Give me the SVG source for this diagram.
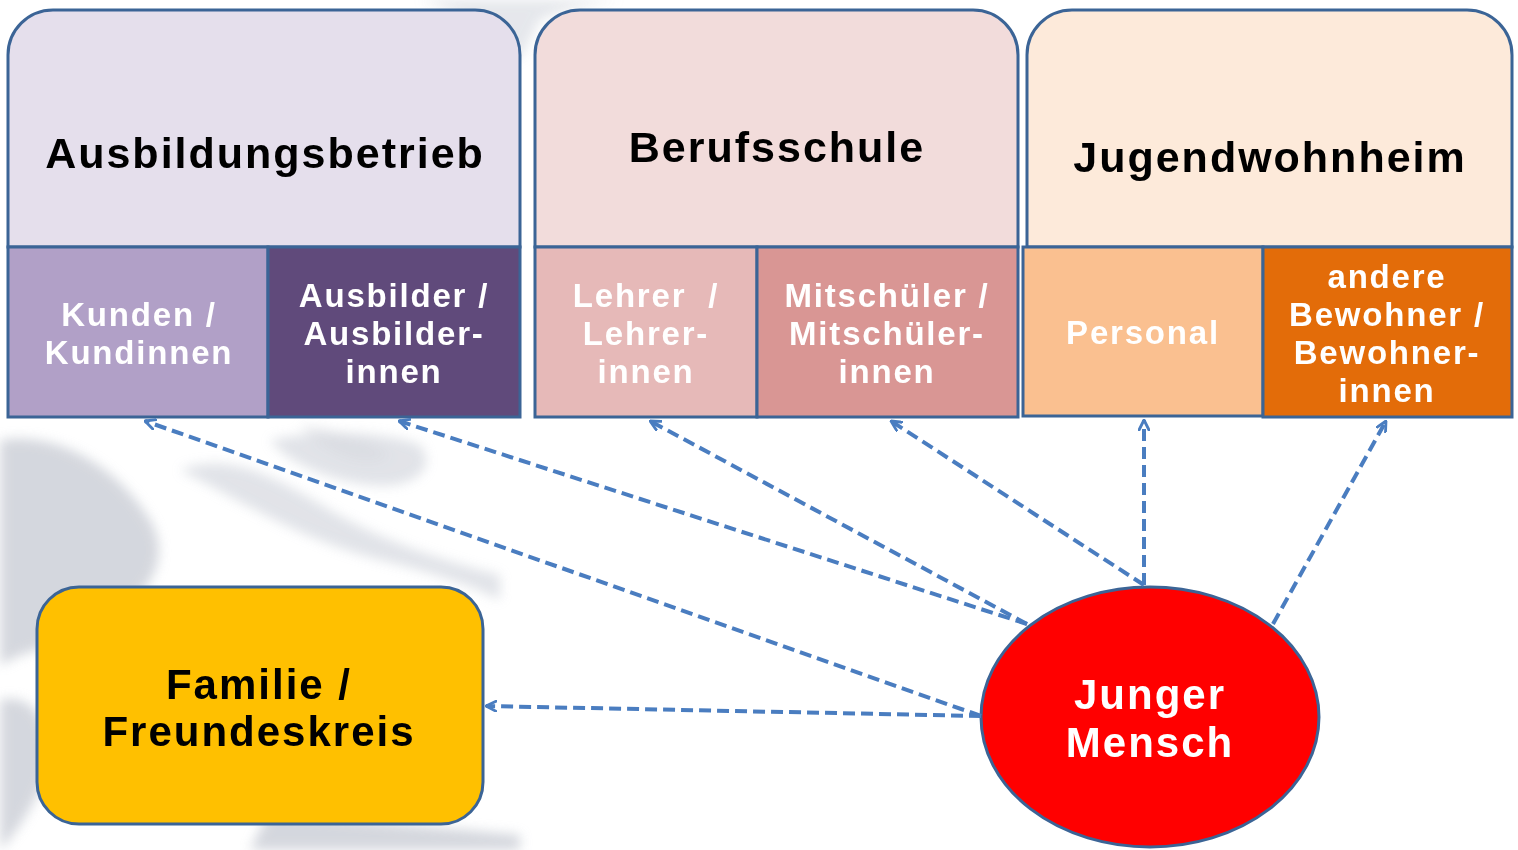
<svg xmlns="http://www.w3.org/2000/svg" width="1518" height="850" viewBox="0 0 1518 850">
  <style>
    .frame { stroke: #3B6496; stroke-width: 3; }
    .title { font-family: "Liberation Sans", Arial, sans-serif; font-weight: bold; font-size: 43px; fill: #000; text-anchor: middle; letter-spacing: 2px; }
    .sub { font-family: "Liberation Sans", Arial, sans-serif; font-weight: bold; font-size: 33px; fill: #fff; text-anchor: middle; letter-spacing: 1.8px; }
    .big { font-family: "Liberation Sans", Arial, sans-serif; font-weight: bold; font-size: 42px; text-anchor: middle; letter-spacing: 2px; }
    .conn { stroke: #4A7DC0; stroke-width: 4; stroke-dasharray: 12 6; fill: none; marker-end: url(#arrow); }
  </style>
  <defs>
    <marker id="arrow" viewBox="0 0 12 12" refX="11" refY="6" markerWidth="12" markerHeight="12" markerUnits="userSpaceOnUse" orient="auto">
      <polyline points="1,1 11,6 1,11" fill="none" stroke="#4A7DC0" stroke-width="2.8" stroke-linecap="round" stroke-linejoin="round"/>
    </marker>
    <filter id="blur" x="-20%" y="-20%" width="140%" height="140%">
      <feGaussianBlur stdDeviation="6"/>
    </filter>
  </defs>

  <rect width="1518" height="850" fill="#fff"/>

  <!-- faint background imagery -->
  <g id="background" filter="url(#blur)" fill="#CDD0D8" opacity="0.85">
    <path d="M0,440 C60,430 120,470 150,520 C180,570 130,620 60,640 C30,650 10,660 0,665 Z"/>
    <path d="M0,700 C40,690 60,740 40,790 C25,820 10,840 0,850 Z"/>
    <path d="M0,520 C40,560 70,600 40,650 L0,660 Z" opacity="0.6"/>
    <path d="M180,470 C240,500 300,540 380,560 C430,572 470,585 500,600 L500,575 C440,560 380,540 330,510 C280,480 230,450 180,470 Z" opacity="0.7"/>
    <path d="M270,440 C320,430 380,430 420,445 C440,470 410,490 370,485 C330,480 290,465 270,440 Z" opacity="0.7"/>
    <path d="M270,810 C330,820 420,825 520,835 L520,850 L250,850 Z"/>
    <path d="M420,0 C450,10 480,20 500,40 L520,60 L540,20 C560,10 590,5 620,0 Z" opacity="0.6"/>
    <path d="M300,425 C340,430 370,440 390,455 C370,470 330,460 300,425 Z" opacity="0.5"/>
  </g>

  <!-- Ausbildungsbetrieb -->
  <g id="ausbildungsbetrieb">
    <path class="frame" d="M8,247 V55 A45,45 0 0 1 53,10 H475 A45,45 0 0 1 520,55 V247 Z" fill="#E5DFEC"/>
    <text class="title" x="265" y="168">Ausbildungsbetrieb</text>
  </g>
  <g id="kunden">
    <rect class="frame" x="8" y="247" width="260" height="170" fill="#B1A0C7"/>
    <text class="sub" x="139" y="326">Kunden /</text>
    <text class="sub" x="139" y="364">Kundinnen</text>
  </g>
  <g id="ausbilder">
    <rect class="frame" x="268" y="247" width="252" height="170" fill="#604A7B"/>
    <text class="sub" x="394" y="307">Ausbilder /</text>
    <text class="sub" x="394" y="345">Ausbilder-</text>
    <text class="sub" x="394" y="383">innen</text>
  </g>

  <!-- Berufsschule -->
  <g id="berufsschule">
    <path class="frame" d="M535,247 V55 A45,45 0 0 1 580,10 H973 A45,45 0 0 1 1018,55 V247 Z" fill="#F2DCDB"/>
    <text class="title" x="777" y="162">Berufsschule</text>
  </g>
  <g id="lehrer">
    <rect class="frame" x="535" y="247" width="222" height="170" fill="#E6B9B8"/>
    <text class="sub" x="646" y="307" xml:space="preserve">Lehrer  /</text>
    <text class="sub" x="646" y="345">Lehrer-</text>
    <text class="sub" x="646" y="383">innen</text>
  </g>
  <g id="mitschueler">
    <rect class="frame" x="757" y="247" width="261" height="170" fill="#D99694"/>
    <text class="sub" x="887" y="307">Mitschüler /</text>
    <text class="sub" x="887" y="345">Mitschüler-</text>
    <text class="sub" x="887" y="383">innen</text>
  </g>

  <!-- Jugendwohnheim -->
  <g id="jugendwohnheim">
    <path class="frame" d="M1027,247 V55 A45,45 0 0 1 1072,10 H1467 A45,45 0 0 1 1512,55 V247 Z" fill="#FDEADA"/>
    <text class="title" x="1270" y="172">Jugendwohnheim</text>
  </g>
  <g id="personal">
    <rect class="frame" x="1023" y="247" width="240" height="169" fill="#FAC090"/>
    <text class="sub" x="1143" y="344">Personal</text>
  </g>
  <g id="andere-bewohner">
    <rect class="frame" x="1263" y="247" width="249" height="170" fill="#E36C09"/>
    <text class="sub" x="1387" y="288">andere</text>
    <text class="sub" x="1387" y="326">Bewohner /</text>
    <text class="sub" x="1387" y="364">Bewohner-</text>
    <text class="sub" x="1387" y="402">innen</text>
  </g>

  <!-- Familie / Freundeskreis -->
  <g id="familie">
    <rect class="frame" x="37" y="587" width="446" height="237" rx="42" ry="42" fill="#FFC000"/>
    <text class="big" x="259" y="699" fill="#000">Familie /</text>
    <text class="big" x="259" y="746" fill="#000">Freundeskreis</text>
  </g>

  <!-- Junger Mensch -->
  <g id="junger-mensch">
    <ellipse class="frame" cx="1150" cy="717" rx="169" ry="130" fill="#FF0000"/>
    <text class="big" x="1150" y="709" fill="#fff">Junger</text>
    <text class="big" x="1150" y="757" fill="#fff">Mensch</text>
  </g>

  <!-- connectors -->
  <g id="connectors">
    <line class="conn" x1="981" y1="716" x2="145" y2="421"/>
    <line class="conn" x1="1027" y1="624" x2="399" y2="421"/>
    <line class="conn" x1="1027" y1="624" x2="650" y2="421"/>
    <line class="conn" x1="1144" y1="585" x2="891" y2="421"/>
    <line class="conn" x1="1144" y1="585" x2="1144" y2="420"/>
    <line class="conn" x1="1273" y1="624" x2="1386" y2="421"/>
    <line class="conn" x1="981" y1="716" x2="486" y2="706"/>
  </g>
</svg>
